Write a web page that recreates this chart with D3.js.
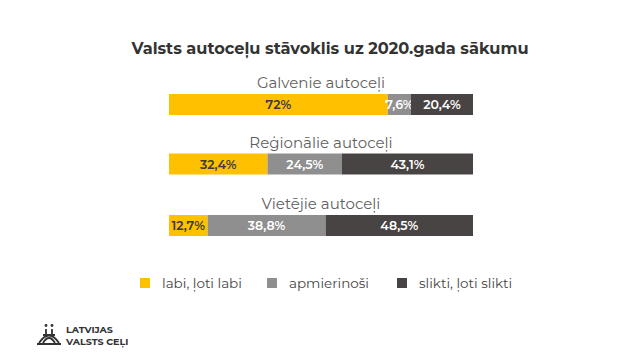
<!DOCTYPE html>
<html>
<head>
<meta charset="utf-8">
<script src="https://cdn.jsdelivr.net/npm/d3@7"></script>
<style>
  body { margin: 0; background: #fff; }
  svg { display: block; }
</style>
</head>
<body>
<div id="chart"></div>
<script>
var categories = ['Galvenie autoceļi', 'Reģionālie autoceļi', 'Vietējie autoceļi'];
var series = ['labi, ļoti labi', 'apmierinoši', 'slikti, ļoti slikti'];
var good = [72, 32.4, 12.7];
var fair = [7.6, 24.5, 38.8];
var bad = [20.4, 43.1, 48.5];
var colors = ['#ffc000', '#8f8f8f', '#484444'];
var textColors = ['#3a3a3a', '#ffffff', '#ffffff'];

var width = 640, height = 360;
var font = 'Montserrat, "Open Sans", sans-serif';

var svg = d3.select('#chart').append('svg')
  .attr('width', width)
  .attr('height', height);

svg.append('text')
  .attr('x', 330).attr('y', 54)
  .attr('text-anchor', 'middle')
  .attr('font-family', font)
  .attr('font-weight', 700)
  .attr('font-size', 16.2)
  .attr('fill', '#333')
  .text('Valsts autoceļu stāvoklis uz 2020.gada sākumu');

var x = d3.scaleLinear().domain([0, 100]).range([169, 473]);
var yBar = d3.scalePoint().domain(categories).range([94, 215]);
var barH = 21;

var rows = categories.map(function(c, i) {
  var vals = [good[i], fair[i], bad[i]], acc = 0;
  return {
    cat: c,
    segs: vals.map(function(v, j) {
      var s = { v: v, x0: acc, x1: acc + v, j: j };
      acc += v;
      return s;
    })
  };
});

var row = svg.selectAll('g.row').data(rows).enter().append('g')
  .attr('class', 'row')
  .attr('transform', function(d, i) {
    // middle bar sits slightly higher than even spacing
    return 'translate(0,' + (yBar(d.cat) + (i === 1 ? -1 : 0)) + ')';
  });

row.append('text')
  .attr('x', (x(0) + x(100)) / 2)
  .attr('y', -6)
  .attr('text-anchor', 'middle')
  .attr('font-family', font)
  .attr('font-size', 15)
  .attr('fill', '#5f5f5f')
  .text(function(d) { return d.cat; });

var seg = row.selectAll('g.seg').data(function(d) { return d.segs; }).enter().append('g');

seg.append('rect')
  .attr('x', function(d) { return x(d.x0); })
  .attr('width', function(d) { return x(d.x1) - x(d.x0); })
  .attr('height', barH)
  .attr('fill', function(d) { return colors[d.j]; });

seg.append('text')
  .attr('x', function(d) { return (x(d.x0) + x(d.x1)) / 2; })
  .attr('y', barH / 2 + 4.5)
  .attr('text-anchor', 'middle')
  .attr('font-family', font)
  .attr('font-weight', 600)
  .attr('font-size', 12.5)
  .attr('fill', function(d) { return textColors[d.j]; })
  .text(function(d) { return String(d.v).replace('.', ',') + '%'; });

// legend
var legendX = [140, 267, 397];
var legend = svg.selectAll('g.legend').data(series).enter().append('g')
  .attr('transform', function(d, i) { return 'translate(' + legendX[i] + ',278)'; });
legend.append('rect')
  .attr('width', 10).attr('height', 10)
  .attr('fill', function(d, i) { return colors[i]; });
legend.append('text')
  .attr('x', 22).attr('y', 10)
  .attr('font-family', font)
  .attr('font-size', 13.5)
  .attr('fill', '#444')
  .text(function(d) { return d; });

// logo
var logo = svg.append('g').attr('transform', 'translate(37,322)');
logo.append('path')
  .attr('d', 'M0,22 L24,22 M2,21 Q12,6 22,21 M6,21 Q12,11 18,21 M9,7 L9,13 M15,7 L15,13 M6,13 L18,13')
  .attr('fill', 'none').attr('stroke', '#333').attr('stroke-width', 1.8);
logo.append('circle').attr('cx', 9).attr('cy', 3.5).attr('r', 1.4).attr('fill', '#333');
logo.append('circle').attr('cx', 15).attr('cy', 3.5).attr('r', 1.4).attr('fill', '#333');
logo.append('text').attr('x', 29).attr('y', 11)
  .attr('font-family', font).attr('font-weight', 700).attr('font-size', 9.5).attr('fill', '#333')
  .text('LATVIJAS');
logo.append('text').attr('x', 29).attr('y', 23)
  .attr('font-family', font).attr('font-weight', 700).attr('font-size', 9.5).attr('fill', '#333')
  .text('VALSTS CEĻI');
</script>
</body>
</html>
